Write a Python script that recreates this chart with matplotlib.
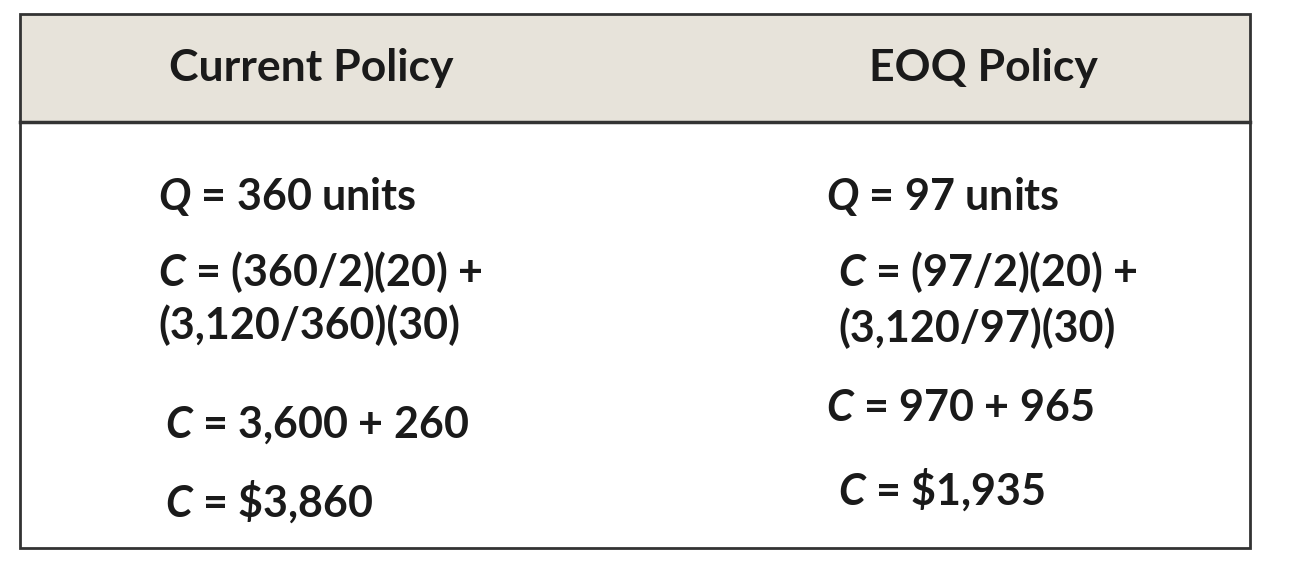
import matplotlib
matplotlib.use("Agg")
import matplotlib.pyplot as plt
from matplotlib.patches import Rectangle

plt.rcParams['font.family'] = ['Lato', 'DejaVu Sans']
plt.rcParams['mathtext.fontset'] = 'custom'
plt.rcParams['mathtext.it'] = 'Lato:italic:bold'
plt.rcParams['mathtext.rm'] = 'Lato:bold'

headers = ["Current Policy", "EOQ Policy"]
current_lines = [r"$\mathit{Q}$ = 360 units",
                 r"$\mathit{C}$ = (360/2)(20) +",
                 "(3,120/360)(30)",
                 r"$\mathit{C}$ = 3,600 + 260",
                 r"$\mathit{C}$ = \$3,860"]
eoq_lines = [r"$\mathit{Q}$ = 97 units",
             r"$\mathit{C}$ = (97/2)(20) +",
             "(3,120/97)(30)",
             r"$\mathit{C}$ = 970 + 965",
             r"$\mathit{C}$ = \$1,935"]

cur_pos = [(158, 196), (158, 272), (158, 325), (165, 425), (165, 502)]
eoq_pos = [(826, 196), (838, 272), (838, 328), (826, 408), (838, 490)]

fig = plt.figure(figsize=(13.12, 5.88), dpi=100)
ax = fig.add_axes([0, 0, 1, 1])
ax.set_xlim(0, 1312)
ax.set_ylim(588, 0)
ax.axis('off')

ax.add_patch(Rectangle((20, 14), 1230, 108, facecolor='#e7e3da', edgecolor='none'))
ax.add_patch(Rectangle((20, 14), 1230, 534, facecolor='none', edgecolor='#333333', lw=2))
ax.plot([20, 1250], [122, 122], color='#333333', lw=2.5)

ax.text(311, 68, headers[0], ha='center', va='center', fontsize=32, fontweight='bold', color='#1a1a1a')
ax.text(983, 68, headers[1], ha='center', va='center', fontsize=32, fontweight='bold', color='#1a1a1a')

for s, (x, y) in zip(current_lines, cur_pos):
    ax.text(x, y, s, ha='left', va='center', fontsize=31, fontweight='bold', color='#1a1a1a')
for s, (x, y) in zip(eoq_lines, eoq_pos):
    ax.text(x, y, s, ha='left', va='center', fontsize=31, fontweight='bold', color='#1a1a1a')

fig.savefig("out.png", dpi=100, facecolor='white')
